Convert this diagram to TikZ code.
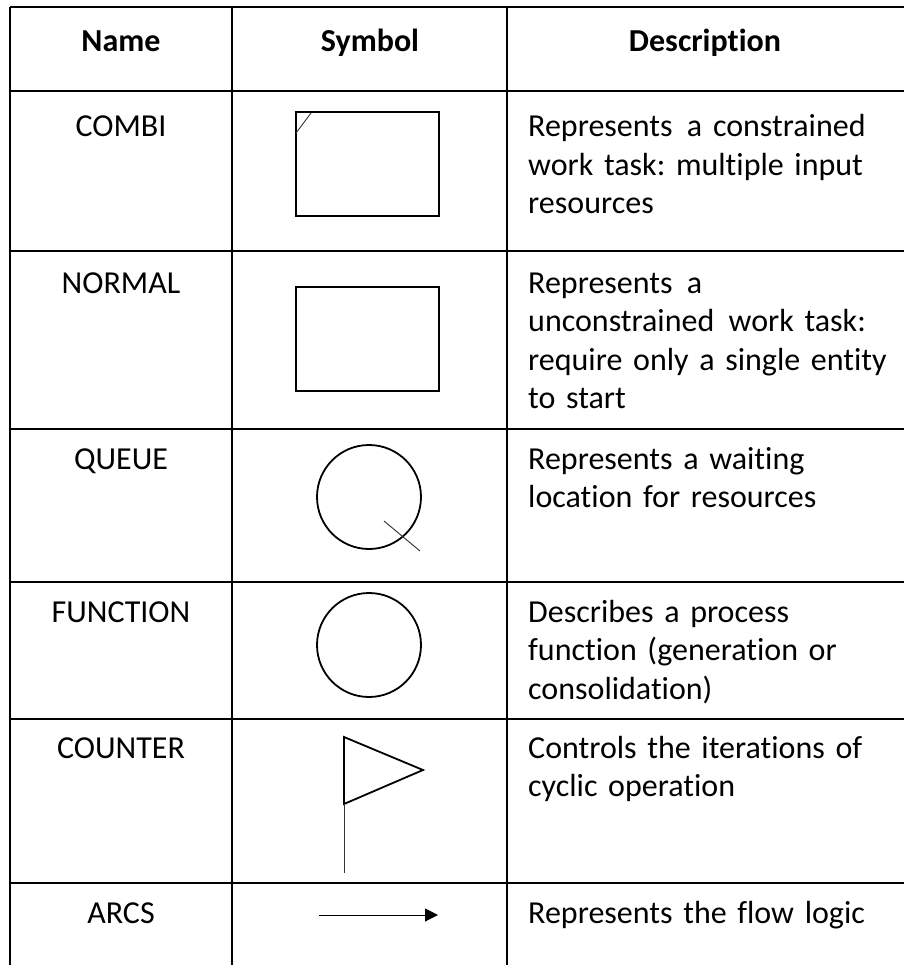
\documentclass[tikz,border=0pt]{standalone}
\usepackage{fontspec}
\setmainfont{Carlito}[Ligatures=NoCommon]
\frenchspacing
\usetikzlibrary{arrows.meta}
\begin{document}
\begin{tikzpicture}[x=1pt,y=-1pt,
  rule/.style={line width=2pt, black},
  symline/.style={line width=1.8pt, black},
  fineline/.style={line width=0.9pt, black!80},
  txt/.style={inner sep=0pt, font=\fontsize{32}{38.5}\selectfont},
  namecell/.style={txt, anchor=base},
  headcell/.style={txt, anchor=base, font=\fontsize{32}{38.5}\selectfont\bfseries},
  desccell/.style={txt, anchor=base west, text width=372pt, align=left}]
\useasboundingbox[fill=white] (0,0) rectangle (904,965);

% table rules (open on the right and at the bottom)
\foreach \y in {7,91,251,429,582,719,883}
  \draw[rule] (10,\y) -- (904,\y);
\foreach \x in {10,232,507}
  \draw[rule] (\x,7) -- (\x,965);

% header
\node[headcell] (hname) at (121,52) {Name};
\node[headcell] (hsym)  at (370,52) {Symbol};
\node[headcell] (hdesc) at (705,52) {Description};

% names
\node[namecell] (ncombi)   at (121,137) {COMBI};
\node[namecell] (nnormal)  at (121,293) {NORMAL};
\node[namecell] (nqueue)   at (121,469) {QUEUE};
\node[namecell] (nfunc)    at (121,622) {FUNCTION};
\node[namecell] (ncounter) at (121,758) {COUNTER};
\node[namecell] (narcs)    at (121,923) {ARCS};

% descriptions
\node[desccell] (dcombi) at (528,137)
  {Represents\hspace{0.45em}a constrained\\work task: multiple input\\resources};
\node[desccell] (dnormal) at (528,293)
  {Represents\hspace{0.45em}a\\unconstrained\hspace{0.45em}work task:\\require only a single entity\\to start};
\node[desccell] (dqueue) at (528,469)
  {Represents a waiting\\location for resources};
\node[desccell] (dfunc) at (528,622)
  {Describes a process\\function (generation or\\consolidation)};
\node[desccell] (dcounter) at (528,758)
  {Controls the iterations of\\cyclic operation};
\node[desccell] (darcs) at (528,923)
  {Represents the flow logic};

% COMBI symbol
\draw[symline] (296,112) rectangle (439,216);
\draw[fineline] (296,133) -- (311,113);

% NORMAL symbol
\draw[symline] (296,287) rectangle (439,391);

% QUEUE symbol
\draw[symline] (369,497) circle (52);
\draw[fineline] (384,521) -- (420,551);

% FUNCTION symbol
\draw[symline] (369,645) circle (52);

% COUNTER symbol
\draw[symline] (344,737) -- (423,770) -- (344,804) -- cycle;
\draw[fineline] (344,804) -- (344,873);

% ARCS symbol
\coordinate (arcA) at (319,915);
\coordinate (arcB) at (438,915);
\draw[line width=1pt, -{Triangle[length=13pt,width=13pt]}] (arcA) -- (arcB);
\end{tikzpicture}
\end{document}
